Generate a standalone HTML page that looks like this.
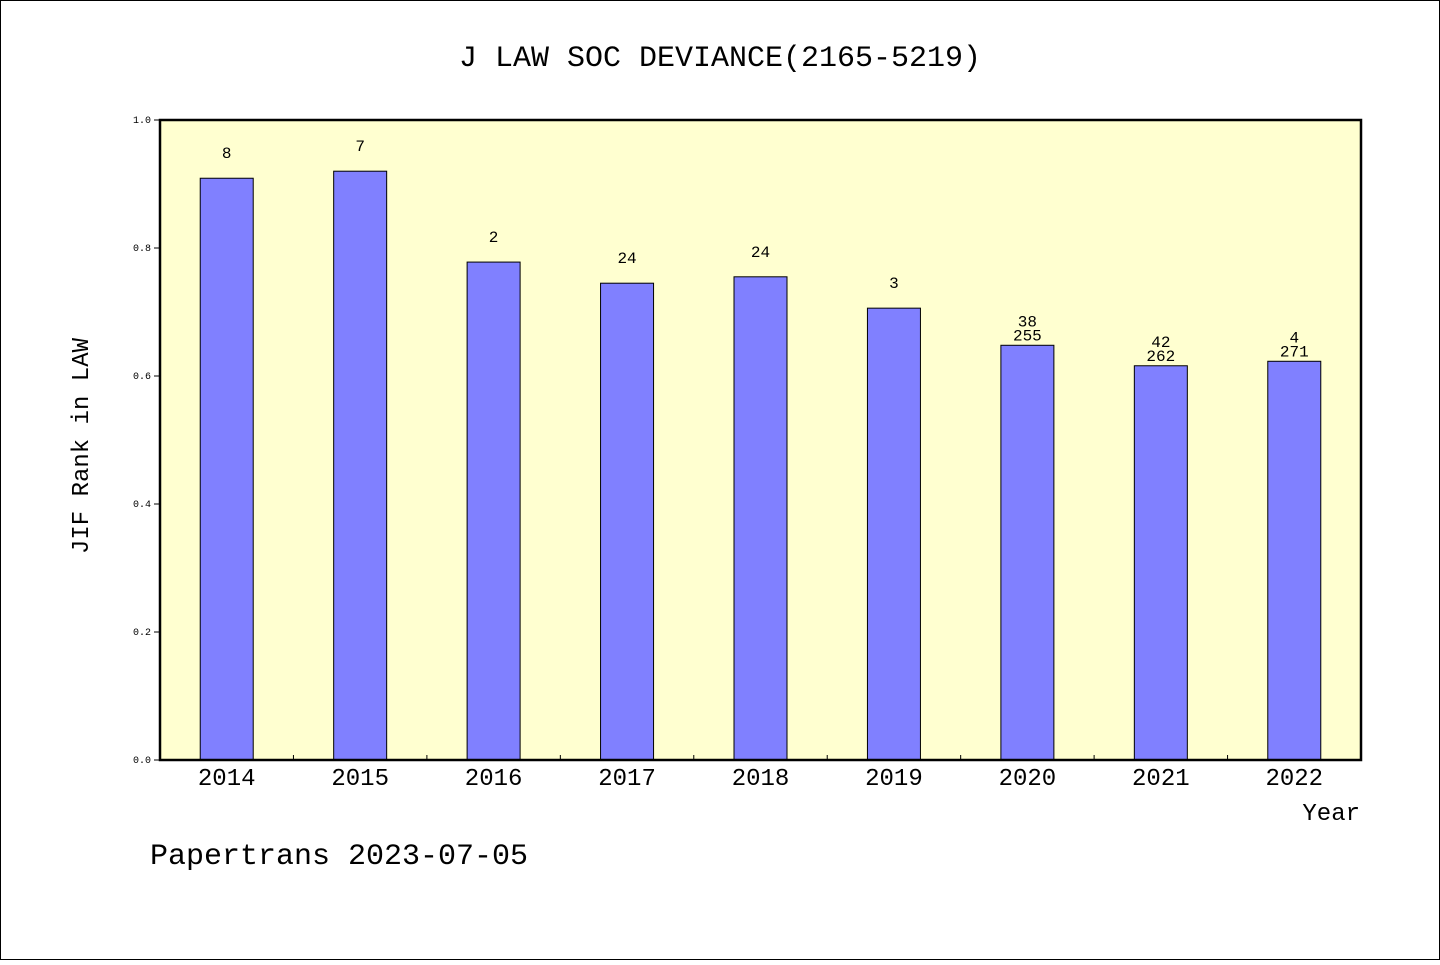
<!DOCTYPE html>
<html><head><meta charset="utf-8"><style>
body{margin:0;background:#fff;}
svg text{font-family:"Liberation Mono","DejaVu Sans Mono",monospace;fill:#000;}
</style></head><body>
<svg width="1440" height="960" xmlns="http://www.w3.org/2000/svg">
<rect x="0.5" y="0.5" width="1439" height="959" fill="#fff" stroke="#000"/>
<text x="720" y="66" font-size="30" text-anchor="middle">J LAW SOC DEVIANCE(2165-5219)</text>
<rect x="160" y="120" width="1201" height="640" fill="#ffffd0"/>
<g id="bars"></g>
<rect x="160" y="120" width="1201" height="640" fill="none" stroke="#000" stroke-width="2.5"/>
<g id="axes"></g>
<text transform="translate(88,446) rotate(-90)" font-size="24" text-anchor="middle">JIF Rank in LAW</text>
<text x="1360" y="820" font-size="24" text-anchor="end">Year</text>
<text x="150" y="864" font-size="30">Papertrans 2023-07-05</text>
</svg>
<script>
const categories=["2014","2015","2016","2017","2018","2019","2020","2021","2022"];
const values=[0.909,0.920,0.778,0.745,0.755,0.706,0.648,0.616,0.623];
const labelsTop=["8","7","2","24","24","3","38","42","4"];
const labelsBottom=["","","","","","","255","262","271"];
const yTicks=[0,0.2,0.4,0.6,0.8,1.0];
const NS="http://www.w3.org/2000/svg";
const x0=160,w=1201,y0=760,h=640;
const band=w/categories.length;
const xc=i=>x0+band*(i+0.5);
const ys=v=>y0-v*h;
function mk(t,a,p){const e=document.createElementNS(NS,t);for(const k in a)e.setAttribute(k,a[k]);p.appendChild(e);return e;}
const bars=document.getElementById('bars'),axes=document.getElementById('axes');
categories.forEach((c,i)=>{
  const bw=53;
  const r=mk('rect',{x:xc(i)-bw/2,y:ys(values[i]),width:bw,height:y0-ys(values[i]),fill:'#8080ff',stroke:'#000','stroke-width':1},bars);
  
  
  if(labelsBottom[i]){
    const t1=mk('text',{x:xc(i),y:ys(values[i])-19,'font-size':16,'text-anchor':'middle'},bars);t1.textContent=labelsTop[i];
    
    
    const t2=mk('text',{x:xc(i),y:ys(values[i])-5,'font-size':16,'text-anchor':'middle'},bars);t2.textContent=labelsBottom[i];
    
    
  }else{
    const t=mk('text',{x:xc(i),y:ys(values[i])-20,'font-size':16,'text-anchor':'middle'},bars);t.textContent=labelsTop[i];
    
    
  }
  const xl=mk('text',{x:xc(i),y:785,'font-size':24,'text-anchor':'middle'},axes);xl.textContent=c;
  
  
  if(i>0){const tk=mk('line',{x1:x0+band*i,x2:x0+band*i,y1:y0,y2:y0-5,stroke:'#000'},axes);
    
    }
});
yTicks.forEach(v=>{
  const tk=mk('line',{x1:x0-6,x2:x0,y1:ys(v),y2:ys(v),stroke:'#000'},axes);
  
  
  const t=mk('text',{x:x0-9,y:ys(v)+3,'font-size':10,'text-anchor':'end','font-family':'Liberation Sans, sans-serif'},axes);t.textContent=v.toFixed(1);
  
  
});
</script>
</body></html>
